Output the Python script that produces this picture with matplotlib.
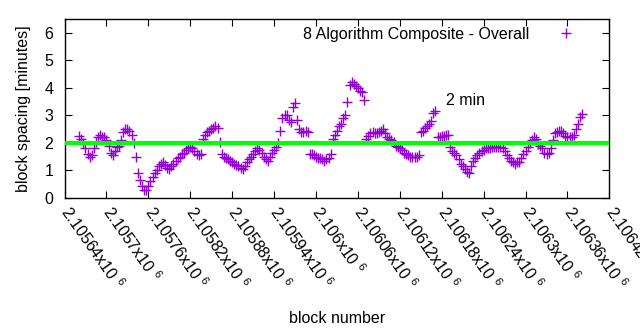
import matplotlib
matplotlib.use("Agg")
import matplotlib.pyplot as plt

plt.rcParams['font.family'] = ['Liberation Sans', 'DejaVu Sans']
plt.rcParams['mathtext.fontset'] = 'custom'
plt.rcParams['mathtext.rm'] = 'Liberation Sans'
plt.rcParams['mathtext.it'] = 'Liberation Sans'

# block heights (every 3rd block)
blocks = [
    2105661, 2105664, 2105667, 2105670, 2105673, 2105676, 2105679, 2105682, 2105685, 2105688,
    2105691, 2105694, 2105697, 2105700, 2105703, 2105706, 2105709, 2105712, 2105715, 2105718,
    2105721, 2105724, 2105727, 2105730, 2105733, 2105736, 2105739, 2105742, 2105745, 2105748,
    2105751, 2105754, 2105757, 2105760, 2105763, 2105766, 2105769, 2105772, 2105775, 2105778,
    2105781, 2105784, 2105787, 2105790, 2105793, 2105796, 2105799, 2105802, 2105805, 2105808,
    2105811, 2105814, 2105817, 2105820, 2105823, 2105826, 2105829, 2105832, 2105835, 2105838,
    2105841, 2105844, 2105847, 2105850, 2105853, 2105856, 2105859, 2105862, 2105865, 2105868,
    2105871, 2105874, 2105877, 2105880, 2105883, 2105886, 2105889, 2105892, 2105895, 2105898,
    2105901, 2105904, 2105907, 2105910, 2105913, 2105916, 2105919, 2105922, 2105925, 2105928,
    2105931, 2105934, 2105937, 2105940, 2105943, 2105946, 2105949, 2105952, 2105955, 2105958,
    2105961, 2105964, 2105967, 2105970, 2105973, 2105976, 2105979, 2105982, 2105985, 2105988,
    2105991, 2105994, 2105997, 2106000, 2106003, 2106006, 2106009, 2106012, 2106015, 2106018,
    2106021, 2106024, 2106027, 2106030, 2106033, 2106036, 2106039, 2106042, 2106045, 2106048,
    2106051, 2106054, 2106057, 2106060, 2106063, 2106066, 2106069, 2106072, 2106075, 2106078,
    2106081, 2106084, 2106087, 2106090, 2106093, 2106096, 2106099, 2106102, 2106105, 2106108,
    2106111, 2106114, 2106117, 2106120, 2106123, 2106126, 2106129, 2106132, 2106135, 2106138,
    2106141, 2106144, 2106147, 2106150, 2106153, 2106156, 2106159, 2106162, 2106165, 2106168,
    2106171, 2106174, 2106177, 2106180, 2106183, 2106186, 2106189, 2106192, 2106195, 2106198,
    2106201, 2106204, 2106207, 2106210, 2106213, 2106216, 2106219, 2106222, 2106225, 2106228,
    2106231, 2106234, 2106237, 2106240, 2106243, 2106246, 2106249, 2106252, 2106255, 2106258,
    2106261, 2106264, 2106267, 2106270, 2106273, 2106276, 2106279, 2106282, 2106285, 2106288,
    2106291, 2106294, 2106297, 2106300, 2106303, 2106306, 2106309, 2106312, 2106315, 2106318,
    2106321, 2106324, 2106327, 2106330, 2106333, 2106336, 2106339, 2106342, 2106345, 2106348,
    2106351, 2106354, 2106357, 2106360, 2106363, 2106366, 2106369, 2106372, 2106375, 2106378,
    2106381,
]

# block spacing in minutes
spacing = [
    2.25, 2.15, 2.0, 1.8, 1.6, 1.5, 1.55, 1.8, 2.05, 2.2,
    2.3, 2.2, 2.2, 2.1, 1.9, 1.65, 1.55, 1.7, 1.85, 1.9,
    2.1, 2.4, 2.5, 2.5, 2.45, 2.3, 2.0, 1.5, 0.9, 0.65,
    0.45, 0.3, 0.3, 0.45, 0.6, 0.75, 0.9, 1.0, 1.15, 1.25,
    1.3, 1.2, 1.1, 1.05, 1.15, 1.25, 1.35, 1.45, 1.5, 1.6,
    1.65, 1.75, 1.8, 1.85, 1.8, 1.7, 1.6, 1.55, 1.6, 2.15,
    2.3, 2.4, 2.45, 2.5, 2.55, 2.6, 2.55, 2.05, 1.6, 1.5,
    1.45, 1.4, 1.35, 1.3, 1.25, 1.2, 1.15, 1.1, 1.05, 1.15,
    1.3, 1.4, 1.5, 1.6, 1.7, 1.8, 1.75, 1.65, 1.5, 1.4,
    1.35, 1.5, 1.65, 1.75, 1.85, 2.0, 2.45, 2.9, 3.0, 3.0,
    2.85, 2.75, 3.3, 3.45, 2.85, 2.5, 2.4, 2.4, 2.45, 2.4,
    1.6, 1.6, 1.55, 1.5, 1.45, 1.45, 1.4, 1.35, 1.4, 1.45,
    1.6, 2.15, 2.3, 2.45, 2.6, 2.7, 2.9, 3.0, 3.5, 4.1,
    4.2, 4.15, 4.05, 4.0, 3.9, 3.85, 3.55, 2.15, 2.25, 2.35,
    2.4, 2.35, 2.35, 2.4, 2.45, 2.5, 2.35, 2.2, 2.15, 2.1,
    2.05, 1.9, 1.85, 1.8, 1.75, 1.65, 1.6, 1.55, 1.5, 1.5,
    1.5, 1.5, 1.55, 2.4, 2.45, 2.55, 2.6, 2.7, 2.8, 3.1,
    3.15, 2.2, 2.2, 2.25, 2.25, 2.3, 2.3, 1.85, 1.7, 1.65,
    1.55, 1.4, 1.25, 1.15, 1.05, 0.95, 0.9, 1.15, 1.35, 1.45,
    1.55, 1.65, 1.7, 1.75, 1.8, 1.8, 1.8, 1.85, 1.85, 1.85,
    1.85, 1.85, 1.8, 1.7, 1.55, 1.45, 1.35, 1.3, 1.25, 1.3,
    1.3, 1.45, 1.6, 1.7, 1.85, 2.0, 2.1, 2.2, 2.15, 1.95,
    1.9, 1.8, 1.65, 1.6, 1.65, 1.8, 2.1, 2.35, 2.4, 2.45,
    2.45, 2.35, 2.25, 2.2, 2.2, 2.2, 2.3, 2.5, 2.7, 2.95,
    3.05,
]

target = 2
xticks = [2105640, 2105700, 2105760, 2105820, 2105880, 2105940, 2106000,
          2106060, 2106120, 2106180, 2106240, 2106300, 2106360, 2106420]
xlabels = ['2.10564x10 $^{6}$', '2.1057x10 $^{6}$', '2.10576x10 $^{6}$', '2.10582x10 $^{6}$',
           '2.10588x10 $^{6}$', '2.10594x10 $^{6}$', '2.106x10 $^{6}$', '2.10606x10 $^{6}$',
           '2.10612x10 $^{6}$', '2.10618x10 $^{6}$', '2.10624x10 $^{6}$', '2.1063x10 $^{6}$',
           '2.10636x10 $^{6}$', '2.10642x10 $^{6}$']

fs = 11.5
fig = plt.figure(figsize=(6.4, 3.3), dpi=100)
ax = fig.add_axes([0.1008, 0.4, 0.8514, 0.5424])

ax.plot(blocks, spacing, linestyle='none', marker='+', markersize=7,
        markeredgewidth=1, color='#9400d3', label='8 Algorithm Composite - Overall')
ax.axhline(target, color='#00ff00', linewidth=3, zorder=3)
ax.text(2106186, 3.53, '2 min', fontsize=fs, va='center', ha='left')

ax.set_xlim(2105640, 2106420)
ax.set_ylim(0, 6.5)
ax.set_yticks(range(0, 7))
ax.set_xticks(xticks)
ax.set_xticklabels(xlabels, rotation=-55, ha='left', va='center',
                   rotation_mode='anchor', fontsize=12)
ax.tick_params(direction='in', length=5, top=True, right=True, labelsize=fs)
ax.tick_params(axis='y', pad=8)
ax.tick_params(axis='x', pad=7)
for s in ax.spines.values():
    s.set_linewidth(1)

ax.set_xlabel('block number', fontsize=fs, labelpad=14)
ax.set_ylabel('block spacing [minutes]', fontsize=fs, labelpad=10)

ax.legend(loc='upper right', bbox_to_anchor=(0.95, 0.955), markerfirst=False,
          frameon=False, fontsize=fs, borderaxespad=0, borderpad=0,
          handlelength=2, handletextpad=1.3)

fig.savefig('out.png', dpi=100)
